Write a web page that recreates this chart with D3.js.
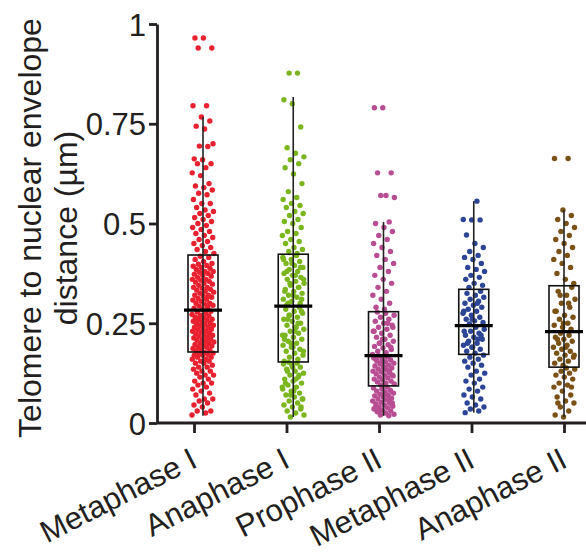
<!DOCTYPE html>
<html>
<head>
<meta charset="utf-8">
<script src="https://cdn.jsdelivr.net/npm/d3@7"></script>
<style>
  body { margin: 0; background: #fff; }
  text { font-family: "Liberation Sans", Arial, sans-serif; fill: #231f20; }
</style>
</head>
<body>
<div id="chart"></div>
<script>
// 1: DATA
const categories = ["Metaphase I", "Anaphase I", "Prophase II", "Metaphase II", "Anaphase II"];
const colors = ["#e8202f", "#7cb61f", "#b84d93", "#2c4596", "#7b5215"];
const yTicks = [0, 0.25, 0.5, 0.75, 1];
const yTickLabels = ["0", "0.25", "0.5", "0.75", "1"];

// box stats: [whisker low, Q1, median, Q3, whisker high]
const boxStats = [
    [0.018, 0.178, 0.283, 0.421, 0.767],
    [0.015, 0.153, 0.293, 0.423, 0.817],
    [0.018, 0.093, 0.169, 0.279, 0.504],
    [0.026, 0.172, 0.244, 0.335, 0.556],
    [0.015, 0.140, 0.229, 0.344, 0.534]
];

const metaphaseI = [
    0.02,0.025,0.03,0.03,0.04,0.045,0.05,0.055,0.06,0.06,0.07,0.075,0.08,0.085,0.09,0.095,0.1,0.1,0.105,0.11,0.115,0.12,0.12,0.125,0.13,0.13,0.135,0.14,0.14,0.145,0.15,0.15,0.155,0.155,0.16,0.16,0.165,0.165,0.17,0.17,0.172,0.175,0.175,0.177,
    0.18,0.182,0.185,0.187,0.19,0.19,0.193,0.195,0.197,0.2,0.2,0.203,0.205,0.208,0.21,0.21,0.213,0.215,0.218,0.22,0.22,0.223,0.225,0.228,0.23,0.23,0.233,0.235,0.238,0.24,0.24,0.243,0.245,0.248,0.25,0.25,0.253,0.255,0.258,0.26,0.26,0.263,0.265,0.268,0.27,0.272,0.275,0.278,0.28,
    0.285,0.288,0.29,0.293,0.295,0.298,0.3,0.3,0.305,0.308,0.31,0.312,0.315,0.318,0.32,0.32,0.325,0.328,0.33,0.333,0.335,0.338,0.34,0.34,0.345,0.348,0.35,0.353,0.355,0.358,0.36,0.36,0.365,0.368,0.37,0.373,0.375,0.378,0.38,0.38,0.385,0.388,0.39,0.393,0.395,0.398,0.4,0.405,0.41,0.415,0.418,
    0.425,0.43,0.435,0.44,0.445,0.45,0.455,0.46,0.465,0.47,0.475,0.48,0.485,0.49,0.495,0.5,0.505,0.51,0.515,0.52,0.525,0.53,0.534,0.54,0.55,0.55,0.56,0.572,0.576,0.584,0.59,0.594,0.6,0.62,0.627,0.64,0.65,0.65,0.66,0.662,0.693,0.694,0.70,0.737,0.744,0.757,0.767,0.795,0.795,0.94,0.94,0.965,0.965
];
const anaphaseI = [
    0.015,0.02,0.025,0.03,0.035,0.04,0.045,0.05,0.055,0.06,0.065,0.07,0.075,0.08,0.085,0.09,0.095,0.1,0.105,0.11,0.115,0.12,0.125,0.13,0.135,0.14,0.145,0.148,0.15,0.152,0.06,0.08,0.1,0.12,0.07,0.09,0.11,0.13,0.04,0.14,
    0.155,0.16,0.165,0.17,0.175,0.18,0.185,0.19,0.195,0.2,0.205,0.21,0.215,0.22,0.225,0.23,0.235,0.24,0.245,0.25,0.255,0.26,0.265,0.27,0.275,0.28,0.285,0.29,0.2,0.22,0.24,0.26,0.28,0.19,0.21,0.25,0.27,0.18,0.23,
    0.295,0.3,0.305,0.31,0.315,0.32,0.325,0.33,0.335,0.34,0.345,0.35,0.355,0.36,0.365,0.37,0.375,0.38,0.385,0.39,0.395,0.4,0.405,0.41,0.415,0.42,0.3,0.31,0.32,0.33,0.34,0.35,0.36,0.37,0.38,0.39,0.4,0.41,
    0.425,0.43,0.435,0.44,0.45,0.455,0.46,0.47,0.475,0.48,0.49,0.5,0.505,0.51,0.52,0.525,0.53,0.54,0.545,0.55,0.56,0.565,0.58,0.6,0.624,0.64,0.65,0.66,0.667,0.676,0.69,0.742,0.80,0.81,0.877,0.877
];
const prophaseII = [
    0.018,0.02,0.022,0.025,0.028,0.03,0.032,0.035,0.038,0.04,0.042,0.045,0.048,0.05,0.052,0.055,0.058,0.06,0.062,0.065,0.068,0.07,0.072,0.075,0.078,0.08,0.082,0.085,0.088,0.09,0.03,0.05,0.07,0.04,0.06,
    0.095,0.098,0.1,0.103,0.105,0.108,0.11,0.113,0.115,0.118,0.12,0.123,0.125,0.128,0.13,0.133,0.135,0.138,0.14,0.143,0.145,0.148,0.15,0.153,0.155,0.158,0.16,0.163,0.165,0.168,0.12,0.14,0.16,0.13,0.15,
    0.172,0.176,0.18,0.184,0.188,0.192,0.196,0.2,0.205,0.21,0.215,0.22,0.225,0.23,0.235,0.24,0.245,0.25,0.255,0.26,0.265,0.27,0.275,0.278,0.19,0.21,0.23,0.25,0.2,0.24,
    0.285,0.29,0.3,0.31,0.32,0.33,0.34,0.35,0.36,0.37,0.38,0.39,0.4,0.41,0.42,0.43,0.44,0.45,0.46,0.47,0.48,0.49,0.5,0.504,0.57,0.565,0.57,0.627,0.627,0.79,0.79
];
const metaphaseII = [
    0.026,0.03,0.035,0.04,0.045,0.05,0.06,0.065,0.07,0.08,0.085,0.09,0.1,0.105,0.11,0.12,0.125,0.13,0.14,0.145,0.15,0.155,0.16,0.165,0.17,
    0.175,0.18,0.185,0.19,0.195,0.2,0.205,0.21,0.215,0.22,0.225,0.23,0.235,0.24,0.2,0.22,0.19,0.23,0.21,
    0.248,0.252,0.256,0.26,0.265,0.27,0.275,0.28,0.285,0.29,0.295,0.3,0.305,0.31,0.315,0.32,0.325,0.33,0.26,0.28,0.3,
    0.34,0.345,0.35,0.36,0.365,0.37,0.38,0.385,0.39,0.4,0.41,0.415,0.42,0.43,0.44,0.45,0.471,0.509,0.509,0.51,0.556
];
const anaphaseII = [
    0.015,0.02,0.03,0.04,0.05,0.055,0.065,0.07,0.08,0.09,0.095,0.1,0.11,0.115,0.12,0.125,0.13,0.135,0.138,0.05,0.09,
    0.145,0.15,0.155,0.16,0.165,0.17,0.175,0.18,0.185,0.19,0.195,0.2,0.205,0.21,0.215,0.22,0.225,0.17,0.19,0.21,
    0.235,0.24,0.245,0.25,0.26,0.265,0.27,0.28,0.29,0.3,0.31,0.32,0.33,0.34,0.25,0.28,0.3,0.32,
    0.35,0.36,0.375,0.39,0.4,0.41,0.42,0.43,0.44,0.45,0.46,0.47,0.48,0.49,0.5,0.51,0.52,0.534,0.663,0.663
];
const groups = [metaphaseI, anaphaseI, prophaseII, metaphaseII, anaphaseII];

// 2: SVG + SCALES
const W = 586, H = 555;
const svg = d3.select("#chart").append("svg")
    .attr("width", W)
    .attr("height", H);

const yScale = d3.scaleLinear().domain([0, 1]).range([423, 24]);
const xTick = d3.scalePoint().domain(categories).range([194, 564]);
const xBox = d3.scalePoint().domain(categories).range([203, 564]);
const jitterWidth = 11;

// 3: DOTS (deterministic spread around each box centre)
categories.forEach((cat, gi) => {
    const vals = groups[gi];
    svg.append("g")
        .selectAll("circle")
        .data(vals)
        .join("circle")
        .attr("cx", (d, i) => {
            const f = ((i * 0.6180339 + gi * 0.37) % 1) - 0.5;
            return xBox(cat) + f * 2 * jitterWidth;
        })
        .attr("cy", d => yScale(d))
        .attr("r", 2.7)
        .attr("fill", colors[gi]);
});

// 4: BOXES, WHISKERS, MEDIANS
const boxW = 30, medW = 38;
const boxes = svg.append("g").selectAll("g")
    .data(categories)
    .join("g");

boxes.append("line")
    .attr("x1", d => xBox(d)).attr("x2", d => xBox(d))
    .attr("y1", (d, i) => yScale(boxStats[i][0]))
    .attr("y2", (d, i) => yScale(boxStats[i][4]))
    .attr("stroke", "#222")
    .attr("stroke-width", 1.6);

boxes.append("rect")
    .attr("x", d => xBox(d) - boxW / 2)
    .attr("width", boxW)
    .attr("y", (d, i) => yScale(boxStats[i][3]))
    .attr("height", (d, i) => yScale(boxStats[i][1]) - yScale(boxStats[i][3]))
    .attr("fill", "none")
    .attr("stroke", "#111")
    .attr("stroke-width", 1.6);

boxes.append("line")
    .attr("x1", d => xBox(d) - medW / 2).attr("x2", d => xBox(d) + medW / 2)
    .attr("y1", (d, i) => yScale(boxStats[i][2]))
    .attr("y2", (d, i) => yScale(boxStats[i][2]))
    .attr("stroke", "#000")
    .attr("stroke-width", 3.2);

// 5: AXES
const yAxis = svg.append("g")
    .attr("transform", "translate(157,0)")
    .call(d3.axisLeft(yScale).tickValues(yTicks)
        .tickFormat((d, i) => yTickLabels[i])
        .tickSize(8).tickSizeOuter(0).tickPadding(3));

const xAxis = svg.append("g")
    .attr("transform", "translate(0,423)")
    .call(d3.axisBottom(xTick).tickSize(10).tickSizeOuter(0).tickFormat(""));

xAxis.select(".domain").attr("d", "M157,0H586");

[yAxis, xAxis].forEach(ax => {
    ax.select(".domain").attr("stroke", "#231f20").attr("stroke-width", 2.8);
    ax.selectAll(".tick line").attr("stroke", "#231f20").attr("stroke-width", 2.8);
});
yAxis.selectAll(".tick text")
    .attr("font-size", 31)
    .attr("font-family", "Liberation Sans, Arial, sans-serif")
    .attr("dy", "0.36em")
    .attr("fill", "#231f20");

// rotated category labels
svg.append("g").selectAll("text")
    .data(categories)
    .join("text")
    .attr("transform", d => `translate(${xTick(d) + 5},${466}) rotate(-27)`)
    .attr("text-anchor", "end")
    .attr("font-size", 31)
    .text(d => d);

// y axis title
const title = svg.append("text")
    .attr("transform", "translate(41,228) rotate(-90)")
    .attr("text-anchor", "middle")
    .attr("font-size", 32);
title.append("tspan").attr("x", 0).attr("dy", 0).text("Telomere to nuclear envelope");
title.append("tspan").attr("x", 0).attr("dy", 36).text("distance (µm)");
</script>
</body>
</html>
